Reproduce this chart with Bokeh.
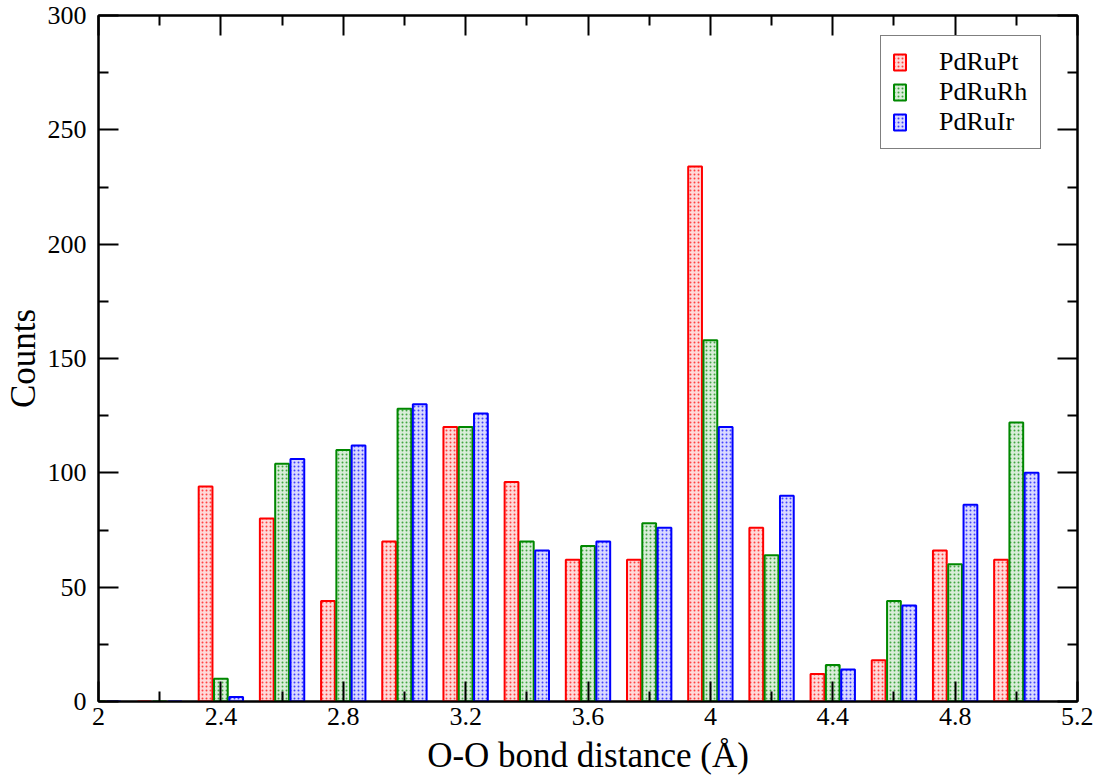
from bokeh.plotting import figure
from bokeh.models import LinearAxis, FixedTicker, Range1d, Legend, LegendItem, ColumnDataSource
from bokeh.embed import file_html
from bokeh.resources import INLINE

# Data (bin centres in Å; counts per series)
centers = [2.0, 2.2, 2.4, 2.6, 2.8, 3.0, 3.2, 3.4, 3.6, 3.8, 4.0, 4.2, 4.4, 4.6, 4.8, 5.0]
pdrupt = [0, 0, 94, 80, 44, 70, 120, 96, 62, 62, 234, 76, 12, 18, 66, 62]
pdrurh = [0, 0, 10, 104, 110, 128, 120, 70, 68, 78, 158, 64, 16, 44, 60, 122]
pdruir = [0, 0, 2, 106, 112, 130, 126, 66, 70, 76, 120, 90, 14, 42, 86, 100]
series_names = ["PdRuPt", "PdRuRh", "PdRuIr"]
series_colors = ["#ff0000", "#008800", "#0000ff"]
x_ticks = [2.0, 2.4, 2.8, 3.2, 3.6, 4.0, 4.4, 4.8, 5.2]
x_minor = [2.2, 2.6, 3.0, 3.4, 3.8, 4.2, 4.6, 5.0]
y_ticks = [0, 50, 100, 150, 200, 250, 300]
y_minor = [25, 75, 125, 175, 225, 275]

FONT = "Liberation Serif"

p = figure(frame_width=979, frame_height=686, output_backend="svg", toolbar_location=None,
           x_range=Range1d(2.0, 5.2), y_range=Range1d(0, 300),
           x_axis_label="O-O bond distance (Å)", y_axis_label="Counts")
p.min_border_left = 88
p.min_border_top = 15
p.min_border_right = 16
p.min_border_bottom = 73
p.xgrid.visible = False
p.ygrid.visible = False
p.outline_line_color = "black"
p.outline_line_width = 2
p.background_fill_color = "white"

offsets = [-0.05, 0.0, 0.05]
renderers = []
for vals, col, off in zip([pdrupt, pdrurh, pdruir], series_colors, offsets):
    src = ColumnDataSource(dict(x=[c + off for c in centers], top=vals))
    r = p.vbar(x="x", top="top", bottom=0, width=0.045, source=src,
               fill_color=col, fill_alpha=0.15, line_color=col, line_width=2,
               hatch_pattern="dot", hatch_color=col, hatch_alpha=0.7, hatch_scale=4, hatch_weight=1)
    renderers.append(r)

def style_axis(ax, ticks, minor, labels=True):
    ax.ticker = FixedTicker(ticks=ticks, minor_ticks=minor)
    ax.major_tick_in = 20
    ax.major_tick_out = 0
    ax.minor_tick_in = 10
    ax.minor_tick_out = 0
    ax.major_tick_line_width = 2
    ax.minor_tick_line_width = 2
    ax.major_tick_line_color = "black"
    ax.minor_tick_line_color = "black"
    ax.axis_line_width = 2
    ax.axis_line_color = "black"
    if labels:
        ax.major_label_text_font = FONT
        ax.major_label_text_font_size = "26px"
        ax.major_label_text_color = "black"
        ax.axis_label_text_font = FONT
        ax.axis_label_text_font_size = "35px"
        ax.axis_label_text_font_style = "normal"
        ax.axis_label_text_color = "black"
    else:
        ax.major_label_overrides = {t: "" for t in ticks}
        ax.major_label_text_font_size = "10px"
        ax.major_label_standoff = 0

style_axis(p.xaxis[0], x_ticks, x_minor)
style_axis(p.yaxis[0], y_ticks, y_minor)
p.xaxis[0].major_label_overrides = {2.0: "2", 4.0: "4"}
p.xaxis[0].major_label_standoff = 6
p.yaxis[0].major_label_standoff = 12
p.xaxis[0].axis_label_standoff = 8
p.yaxis[0].axis_label_standoff = 2

top_ax = LinearAxis()
style_axis(top_ax, x_ticks, x_minor, labels=False)
p.add_layout(top_ax, "above")
right_ax = LinearAxis()
style_axis(right_ax, y_ticks, y_minor, labels=False)
p.add_layout(right_ax, "right")

legend = Legend(items=[LegendItem(label=n, renderers=[r]) for n, r in zip(series_names, renderers)],
                location=(782, 552))
legend.label_text_font = FONT
legend.label_text_font_size = "26px"
legend.label_text_color = "black"
legend.glyph_width = 15
legend.glyph_height = 20
legend.label_standoff = 32
legend.label_width = 90
legend.spacing = 0
legend.padding = 11
legend.margin = 0
legend.label_height = 24
legend.border_line_color = "black"
legend.border_line_width = 1.5
legend.background_fill_alpha = 1
p.add_layout(legend, "center")

open("out.html", "w").write(file_html(p, INLINE))
